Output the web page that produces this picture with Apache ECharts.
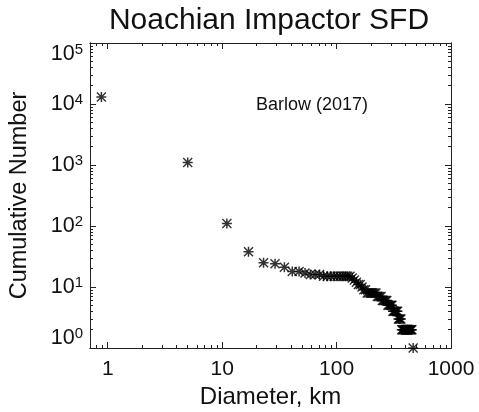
<!DOCTYPE html>
<html><head><meta charset="utf-8">
<script src="https://cdn.jsdelivr.net/npm/echarts@6/dist/echarts.min.js"></script>
<style>html,body{margin:0;padding:0;background:#fff}#c{width:479px;height:412px}</style>
</head><body><div id="c"></div>
<script>
const titleText = 'Noachian Impactor SFD';
const annotationText = 'Barlow (2017)';
const xAxisName = 'Diameter, km';
const yAxisName = 'Cumulative Number';
const xTickLabels = [1, 10, 100, 1000];
const yTickLabels = [1, 10, 100, 1000, 10000, 100000];
const xMinorTicks = [0.8, 0.9, 2, 3, 4, 5, 6, 7, 8, 9, 20, 30, 40, 50, 60, 70, 80, 90, 200, 300, 400, 500, 600, 700, 800, 900];
const yMinorTicks = [2, 3, 4, 5, 6, 7, 8, 9, 20, 30, 40, 50, 60, 70, 80, 90, 200, 300, 400, 500, 600, 700, 800, 900,
  2000, 3000, 4000, 5000, 6000, 7000, 8000, 9000, 20000, 30000, 40000, 50000, 60000, 70000, 80000, 90000];

const diameters = [0.88, 5, 11, 17, 23, 29, 35, 41, 47, 53, 59, 65, 71, 77, 83, 89, 95, 101, 107, 113, 119, 125, 131,
  137, 143, 149, 155, 161, 167, 173, 179, 185, 191, 197, 203, 209, 215, 221, 227, 233, 239, 245, 251, 257, 263, 269, 275,
  281, 287, 293, 299, 305, 311, 317, 323, 329, 335, 341, 347, 353, 359, 365, 371, 377, 383, 389, 395, 401, 407, 413, 419,
  425, 431, 437, 443, 449, 455, 467];
const cumulativeNumber = [13000, 1100, 110, 38, 25, 24, 21, 18, 18, 17, 16, 16, 16, 15, 15, 15, 15, 15, 15, 15, 15, 15, 15,
  14, 13, 12, 11, 11, 10, 9, 9, 8, 8, 8, 8, 8, 8, 8, 7, 7, 7, 7, 6, 6, 6, 6, 6,
  5, 5, 5, 5, 5, 4, 4, 4, 4, 4, 4, 3, 3, 3, 3, 2, 2, 2, 2, 2, 2, 2, 2, 2,
  2, 2, 2, 2, 2, 2, 1];

const FONT = '"Liberation Sans", Arial, Helvetica, sans-serif';
const INK = '#111';
const lineStyle = { color: '#222', width: 1 };

function yLabel(v) {
  const e = Math.round(Math.log10(v));
  if (e === 0) return '{b|10}{s|' + e + '}\n{gb| }';
  if (e === 5) return '{gt| }\n{b|10}{s|' + e + '}';
  return '{b|10}{s|' + e + '}';
}

function makeAxis(kind, position, min, max, ticks, len, labels) {
  const ax = {
    type: 'log', logBase: 10, min: min, max: max, position: position,
    axisLine: { show: true, onZero: false, lineStyle: lineStyle },
    axisTick: { show: true, inside: true, length: len, customValues: ticks, lineStyle: lineStyle },
    splitLine: { show: false }, minorTick: { show: false }, minorSplitLine: { show: false },
    axisLabel: { show: false }
  };
  if (labels) {
    if (kind === 'x') {
      ax.axisLabel = { show: true, customValues: labels, margin: 11, fontSize: 21, fontFamily: FONT, color: INK,
        formatter: v => String(Math.round(v)) };
      ax.name = xAxisName; ax.nameLocation = 'middle'; ax.nameGap = 26;
      ax.nameTextStyle = { fontSize: 24, fontFamily: FONT, color: INK };
    } else {
      ax.axisLabel = { show: true, customValues: labels, margin: 7, color: INK, formatter: yLabel,
        rich: {
          b: { fontSize: 21.5, lineHeight: 24, fontFamily: FONT, color: INK },
          s: { fontSize: 15, lineHeight: 16, verticalAlign: 'top', fontFamily: FONT, color: INK },
          gb: { fontSize: 2, height: 20, lineHeight: 20 },
          gt: { fontSize: 2, height: 22, lineHeight: 22 }
        } };
      ax.name = yAxisName; ax.nameLocation = 'middle'; ax.nameGap = 58;
      ax.nameTextStyle = { fontSize: 23.5, fontFamily: FONT, color: INK };
    }
  }
  return ax;
}

const chart = echarts.init(document.getElementById('c'), null, { renderer: 'canvas' });
chart.setOption({
  animation: false,
  backgroundColor: '#fff',
  grid: { left: 90, right: 28, top: 43, bottom: 64, containLabel: false, outerBoundsMode: 'none' },
  xAxis: [
    makeAxis('x', 'bottom', 0.7, 1000, xTickLabels, 6, xTickLabels),
    makeAxis('x', 'bottom', 0.7, 1000, xMinorTicks, 3, null),
    makeAxis('x', 'top', 0.7, 1000, xTickLabels, 6, null),
    makeAxis('x', 'top', 0.7, 1000, xMinorTicks, 3, null)
  ],
  yAxis: [
    makeAxis('y', 'left', 1, 100000, yTickLabels, 6, yTickLabels),
    makeAxis('y', 'left', 1, 100000, yMinorTicks, 3, null),
    makeAxis('y', 'right', 1, 100000, yTickLabels, 6, null),
    makeAxis('y', 'right', 1, 100000, yMinorTicks, 3, null)
  ],
  graphic: [
    { type: 'text', x: 269, y: 21, silent: true,
      style: { text: titleText, font: '30px ' + FONT, fill: INK, align: 'center', verticalAlign: 'middle', textAlign: 'center', textVerticalAlign: 'middle' } },
    { type: 'text', x: 312, y: 105, silent: true,
      style: { text: annotationText, font: '18px ' + FONT, fill: INK, align: 'center', verticalAlign: 'middle', textAlign: 'center', textVerticalAlign: 'middle' } }
  ],
  series: [{
    type: 'scatter', xAxisIndex: 0, yAxisIndex: 0, clip: false,
    symbol: 'path://M0 4.25H10V5.75H0Z M4.25 0H5.75V10H4.25Z M0 1L1 0L10 9L9 10Z M9 0L10 1L1 10L0 9Z',
    symbolSize: 10,
    itemStyle: { color: '#000' },
    data: diameters.map((d, i) => [d, cumulativeNumber[i]])
  }]
});
</script></body></html>
